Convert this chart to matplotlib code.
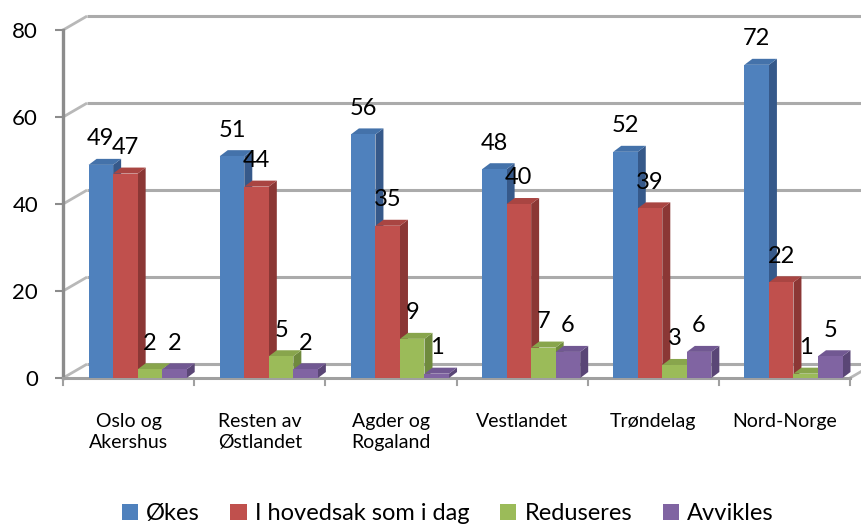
import matplotlib
matplotlib.use("Agg")
import matplotlib.pyplot as plt
from matplotlib.patches import Polygon, Patch

plt.rcParams['font.family'] = ['Lato', 'DejaVu Sans']

# data
categories = ["Oslo og\nAkershus", "Resten av\nØstlandet", "Agder og\nRogaland",
              "Vestlandet", "Trøndelag", "Nord-Norge"]
series_names = ["Økes", "I hovedsak som i dag", "Reduseres", "Avvikles"]
okes = [49, 51, 56, 48, 52, 72]
hovedsak = [47, 44, 35, 40, 39, 22]
reduseres = [2, 5, 9, 7, 3, 1]
avvikles = [2, 2, 1, 6, 6, 5]
yticks = [0, 20, 40, 60, 80]

# office 2007 style colours: front, side, top
front_colors = ['#4F81BD', '#C0504D', '#9BBB59', '#8064A2']
side_colors = ['#36598A', '#8B3735', '#6F8A3D', '#5A4676']
top_colors = ['#4472AA', '#A94542', '#88A54C', '#715892']

# fake 3d depth, in data units
WALL_DX, WALL_DY = 0.183, 3.2
BAR_DX, BAR_DY = 0.061, 1.38
BAR_W = 0.187
GROUP_START = 0.195
GRID_COLOR = '#ababab'

fig = plt.figure(figsize=(8.61, 5.24), dpi=100)
ax = fig.add_axes([0.0732, 0.2786, 0.914, 0.6641])
ax.set_xlim(0, 6)
ax.set_ylim(0, 80)
for s in ax.spines.values():
    s.set_visible(False)

# back wall grid + the little diagonal stubs on the left wall
for v in yticks:
    ax.plot([0, WALL_DX], [v, v + WALL_DY], color='#b8b8b8', lw=2.0,
            clip_on=False, zorder=1, solid_capstyle='butt')
    ax.plot([WALL_DX, 6 + WALL_DX], [v + WALL_DY, v + WALL_DY], color=GRID_COLOR,
            lw=2.2, clip_on=False, zorder=1, solid_capstyle='butt')
# floor right stub
ax.plot([6, 6 + WALL_DX], [0, WALL_DY], color='#b8b8b8', lw=2.0,
        clip_on=False, zorder=1)

# front axes lines
ax.plot([0, 0], [0, 80], color='#8c8c8c', lw=2.4, clip_on=False, zorder=2)
ax.plot([0, 6], [0, 0], color='#a0a0a0', lw=2.2, clip_on=False, zorder=2)
for i in range(7):
    ax.plot([i, i], [0, -1.5], color='#a0a0a0', lw=1.5, clip_on=False, zorder=2)

all_series = [okes, hovedsak, reduseres, avvikles]
x_pos = list(range(len(categories)))
for k, vals in enumerate(all_series):
    lefts = [i + GROUP_START + k * BAR_W for i in x_pos]
    bars = ax.bar(lefts, vals, width=BAR_W, align='edge', color=front_colors[k],
                  zorder=4 + 2 * k, clip_on=False, linewidth=0)
    for rect, v in zip(bars, vals):
        x0 = rect.get_x()
        x1 = x0 + rect.get_width()
        h = rect.get_height()
        side = Polygon([(x1, 0), (x1, h), (x1 + BAR_DX, h + BAR_DY), (x1 + BAR_DX, BAR_DY)],
                       closed=True, facecolor=side_colors[k], edgecolor='none',
                       zorder=3 + 2 * k, clip_on=False)
        top = Polygon([(x0, h), (x1, h), (x1 + BAR_DX, h + BAR_DY), (x0 + BAR_DX, h + BAR_DY)],
                      closed=True, facecolor=top_colors[k], edgecolor='none',
                      zorder=3 + 2 * k, clip_on=False)
        ax.add_patch(side)
        ax.add_patch(top)
        ax.text((x0 + x1) / 2, h + 6, str(v), ha='center', va='center',
                fontsize=17, color='black', zorder=20)

ax.set_yticks(yticks)
ax.set_yticklabels([str(t) for t in yticks], fontsize=16)
ax.tick_params(axis='y', length=6, width=1.5, color='#8c8c8c', pad=12)
ax.set_xticks([i + 0.5 for i in x_pos])
ax.set_xticklabels(categories, fontsize=14, linespacing=1.3)
ax.tick_params(axis='x', length=0, pad=25)

handles = [Patch(facecolor=c, edgecolor='none') for c in front_colors]
fig.legend(handles, series_names, loc='center', bbox_to_anchor=(0.52, 0.02),
           ncol=4, frameon=False, fontsize=17, handlelength=0.68, handleheight=0.68,
           handletextpad=0.35, columnspacing=1.3)

fig.savefig("out.png", dpi=100)
